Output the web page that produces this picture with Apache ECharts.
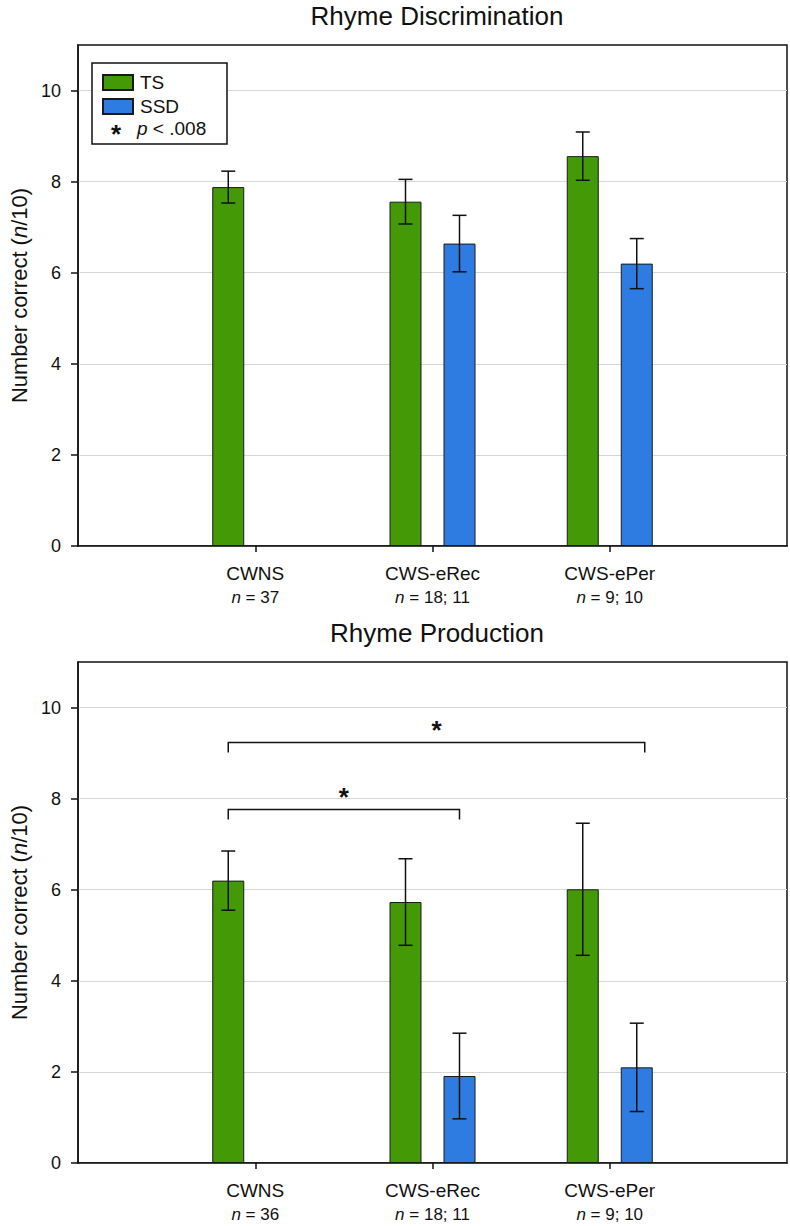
<!DOCTYPE html>
<html><head><meta charset="utf-8">
<script src="https://cdn.jsdelivr.net/npm/echarts@6/dist/echarts.min.js"></script>
<style>html,body{margin:0;padding:0;background:#fff}#c{width:790px;height:1226px}</style>
</head><body><div id="c"></div>
<script>
// ---- data ----
const categories = ['CWNS', 'CWS-eRec', 'CWS-ePer'];
const discN = ['37', '18; 11', '9; 10'];
const prodN = ['36', '18; 11', '9; 10'];
const yTicks = [0, 2, 4, 6, 8, 10];
const seriesNames = ['TS', 'SSD'];
const discTS = [7.88, 7.56, 8.56];
const discTSErr = [0.35, 0.49, 0.53];
const discSSD = [null, 6.64, 6.20];
const discSSDErr = [null, 0.62, 0.55];
const prodTS = [6.20, 5.73, 6.01];
const prodTSErr = [0.65, 0.95, 1.45];
const prodSSD = [null, 1.91, 2.10];
const prodSSDErr = [null, 0.94, 0.97];
const titles = ['Rhyme Discrimination', 'Rhyme Production'];
const legendNote = '< .008';
// significance brackets (bottom panel): from group/series to group/series at value y
const prodBrackets = [
  { from: ['CWNS', 'TS'], to: ['CWS-eRec', 'SSD'], y: 7.76 },
  { from: ['CWNS', 'TS'], to: ['CWS-ePer', 'SSD'], y: 9.23 }
];

// ---- styles ----
const FONT = 'Liberation Sans, Arial, Helvetica, sans-serif';
const GREEN = '#439a06', BLUE = '#2e7be2';
const BAR_W = 32, BAR_GAP_PX = 22;
const OFF = (BAR_W + BAR_GAP_PX) / 2;
const BRACKET_END_EXTRA = [0, 8];
const GRID_L = 73, GRID_W = 714, GRID_H = 501;
const GRID_TOPS = [45, 662];

const xData = [' ', ...categories, '  '];
const pad = arr => ['-', ...arr.map(v => v == null ? '-' : v), '-'];
const catIdx = name => xData.indexOf(name);

function errData(mean, err) {
  const out = [];
  mean.forEach((m, i) => { if (m != null) out.push([i + 1, m, err[i]]); });
  return out;
}
function errRender(side) {
  return function (params, api) {
    const x = api.value(0), m = api.value(1), e = api.value(2);
    const hi = api.coord([x, m + e]), lo = api.coord([x, m - e]);
    const cx = hi[0] + side * OFF, cap = 7;
    const st = { stroke: '#111', lineWidth: 1.5 };
    return { type: 'group', children: [
      { type: 'line', shape: { x1: cx, y1: hi[1], x2: cx, y2: lo[1] }, style: st },
      { type: 'line', shape: { x1: cx - cap, y1: hi[1], x2: cx + cap, y2: hi[1] }, style: st },
      { type: 'line', shape: { x1: cx - cap, y1: lo[1], x2: cx + cap, y2: lo[1] }, style: st }
    ] };
  };
}
function bracketRender(params, api) {
  const i1 = api.value(0), s1 = api.value(1), i2 = api.value(2), s2 = api.value(3), y = api.value(4);
  const p1 = api.coord([i1, y]), p2 = api.coord([i2, y]);
  const extra = BRACKET_END_EXTRA[params.dataIndex] || 0;
  const x1 = p1[0] + s1 * OFF, x2 = p2[0] + s2 * OFF + extra, yy = p1[1];
  const st = { stroke: '#111', lineWidth: 1.5, fill: null };
  return { type: 'group', children: [
    { type: 'polyline', shape: { points: [[x1, yy + 10], [x1, yy], [x2, yy], [x2, yy + 10]] }, style: st },
    { type: 'text', x: (x1 + x2) / 2, y: yy - 13,
      style: { text: '*', fontSize: 26, fontWeight: 'bold', fontFamily: FONT, fill: '#111', align: 'center', verticalAlign: 'middle' } }
  ] };
}

function xAxis(gi, nArr) {
  return {
    type: 'category', gridIndex: gi, data: xData, boundaryGap: false,
    axisLine: { lineStyle: { color: '#111', width: 1.5 } },
    axisTick: { interval: (i) => i > 0 && i < xData.length - 1, length: 6, lineStyle: { color: '#111', width: 1.5 } },
    axisLabel: {
      interval: 0, margin: 15, color: '#111',
      formatter: (v, i) => {
        const k = categories.indexOf(v);
        if (k < 0) return '';
        return '{a|' + v + '}\n{i|n}{b| = ' + nArr[k] + '}';
      },
      rich: {
        a: { fontSize: 19, fontFamily: FONT, color: '#111', lineHeight: 24 },
        i: { fontSize: 17, fontFamily: FONT, fontStyle: 'italic', color: '#111', lineHeight: 24 },
        b: { fontSize: 17, fontFamily: FONT, color: '#111', lineHeight: 24 }
      }
    },
    splitLine: { show: false }
  };
}
function yAxis(gi) {
  return {
    type: 'value', gridIndex: gi, min: 0, max: 11, interval: 2,
    name: '{a|Number correct (}{i|n}{a|/10)}', nameLocation: 'middle', nameGap: 48,
    nameTextStyle: { rich: {
      a: { fontSize: 22, fontFamily: FONT, color: '#111' },
      i: { fontSize: 22, fontFamily: FONT, fontStyle: 'italic', color: '#111' }
    } },
    axisLine: { show: true, lineStyle: { color: '#111', width: 1.5 } },
    axisTick: { show: true, length: 7, customValues: yTicks, lineStyle: { color: '#111', width: 1.5 } },
    axisLabel: { margin: 17, fontSize: 18, fontFamily: FONT, color: '#111', customValues: yTicks },
    splitLine: { show: true, lineStyle: { color: '#d4d8d8', width: 1 } }
  };
}
function barSeries(name, data, gi, color) {
  return {
    type: 'bar', name, xAxisIndex: gi, yAxisIndex: gi, data: pad(data),
    barWidth: BAR_W, barGap: (BAR_GAP_PX / BAR_W * 100) + '%',
    itemStyle: { color, borderColor: '#1a1a1a', borderWidth: 1 }, z: 2
  };
}
function errSeries(mean, err, gi, side) {
  return {
    type: 'custom', xAxisIndex: gi, yAxisIndex: gi, data: errData(mean, err),
    encode: { x: 0, y: 1 }, renderItem: errRender(side), z: 3, silent: true
  };
}

const chart = echarts.init(document.getElementById('c'), null, { renderer: 'svg' });
chart.setOption({
  animation: false,
  backgroundColor: '#fff',
  textStyle: { fontFamily: FONT },
  grid: GRID_TOPS.map(t => ({ left: GRID_L, top: t, width: GRID_W, height: GRID_H, show: true,
    borderColor: '#111', borderWidth: 1.5, backgroundColor: 'transparent', containLabel: false })),
  xAxis: [xAxis(0, discN), xAxis(1, prodN)],
  yAxis: [yAxis(0), yAxis(1)],
  legend: {
    data: seriesNames, orient: 'vertical', left: 102, top: 73, padding: 0,
    itemWidth: 30, itemHeight: 15, itemGap: 5, icon: 'rect', z: 6,
    textStyle: { fontSize: 19, fontFamily: FONT, color: '#111', padding: [0, 0, 0, 2] }
  },
  graphic: [
    { type: 'text', x: GRID_L + GRID_W / 2 + 7, y: 16, z: 5,
      style: { text: titles[0], fontSize: 26, fontFamily: FONT, fill: '#111', textAlign: 'center', textVerticalAlign: 'middle' } },
    { type: 'text', x: GRID_L + GRID_W / 2 + 7, y: 633, z: 5,
      style: { text: titles[1], fontSize: 26, fontFamily: FONT, fill: '#111', textAlign: 'center', textVerticalAlign: 'middle' } },
    { type: 'rect', shape: { x: 92, y: 63, width: 135, height: 81 }, z: 4,
      style: { fill: '#fff', stroke: '#111', lineWidth: 1.5 } },
    { type: 'text', x: 116, y: 134, z: 5,
      style: { text: '*', fontSize: 26, fontWeight: 'bold', fontFamily: FONT, fill: '#111', textAlign: 'center', textVerticalAlign: 'middle' } },
    { type: 'text', x: 137, y: 128, z: 5,
      style: { text: '{i|p}{b| ' + legendNote + '}', fontFamily: FONT, textAlign: 'left', textVerticalAlign: 'middle',
        rich: { i: { fontSize: 19, fontStyle: 'italic', fontFamily: FONT, fill: '#111' },
                b: { fontSize: 19, fontFamily: FONT, fill: '#111' } } } }
  ],
  series: [
    barSeries('TS', discTS, 0, GREEN),
    barSeries('SSD', discSSD, 0, BLUE),
    errSeries(discTS, discTSErr, 0, -1),
    errSeries(discSSD, discSSDErr, 0, 1),
    barSeries('TS', prodTS, 1, GREEN),
    barSeries('SSD', prodSSD, 1, BLUE),
    errSeries(prodTS, prodTSErr, 1, -1),
    errSeries(prodSSD, prodSSDErr, 1, 1),
    {
      type: 'custom', xAxisIndex: 1, yAxisIndex: 1, silent: true, z: 3,
      data: prodBrackets.map(b => [catIdx(b.from[0]), b.from[1] === 'TS' ? -1 : 1,
                                   catIdx(b.to[0]), b.to[1] === 'TS' ? -1 : 1, b.y]),
      encode: { x: 0, y: 4 },
      renderItem: bracketRender
    }
  ]
});
</script></body></html>
